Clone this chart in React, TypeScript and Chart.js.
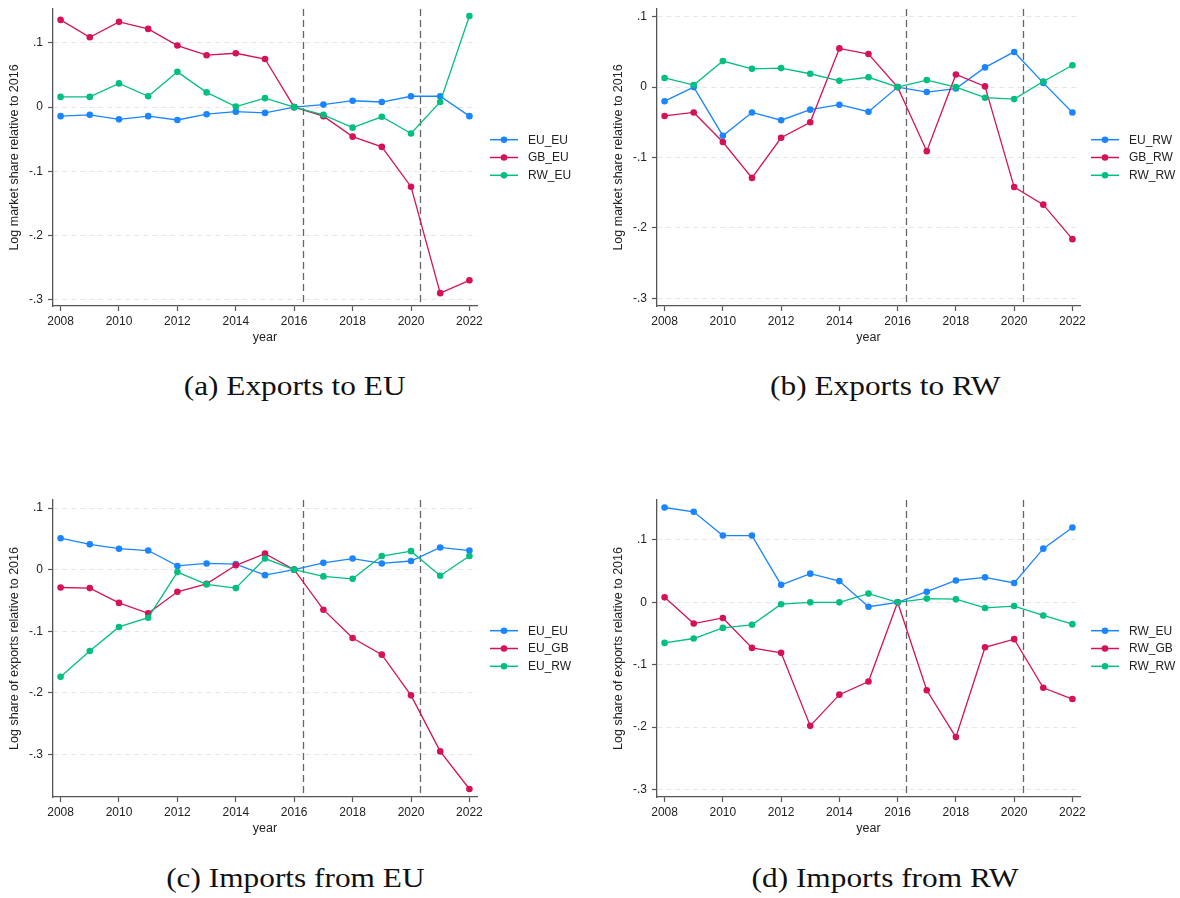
import React, { useEffect, useRef } from "react";
import { Chart, registerables } from "chart.js";

Chart.register(...registerables);

// ---------- data ----------
const years = [2008, 2009, 2010, 2011, 2012, 2013, 2014, 2015, 2016, 2017, 2018, 2019, 2020, 2021, 2022];
const xTickValues = [2008, 2010, 2012, 2014, 2016, 2018, 2020, 2022];
const yTickValues = [0.1, 0, -0.1, -0.2, -0.3];
const referenceYears = [2016.3, 2020.3];

// (a) Exports to EU
const exportsEU_EU_EU = [-0.014, -0.012, -0.019, -0.014, -0.02, -0.011, -0.007, -0.009, 0, 0.004, 0.01, 0.008, 0.017, 0.017, -0.014];
const exportsEU_GB_EU = [0.136, 0.109, 0.133, 0.122, 0.096, 0.081, 0.084, 0.075, 0, -0.014, -0.046, -0.062, -0.124, -0.29, -0.27];
const exportsEU_RW_EU = [0.016, 0.016, 0.037, 0.017, 0.055, 0.023, 0.001, 0.014, 0, -0.012, -0.032, -0.015, -0.041, 0.008, 0.142];

// (b) Exports to RW
const exportsRW_EU_RW = [-0.02, 0.0, -0.069, -0.036, -0.047, -0.032, -0.025, -0.035, 0, -0.007, -0.002, 0.028, 0.05, 0.006, -0.036];
const exportsRW_GB_RW = [-0.041, -0.036, -0.078, -0.129, -0.072, -0.05, 0.055, 0.047, 0, -0.091, 0.018, 0.001, -0.142, -0.167, -0.216];
const exportsRW_RW_RW = [0.013, 0.003, 0.037, 0.026, 0.027, 0.019, 0.009, 0.014, 0, 0.01, 0.0, -0.015, -0.017, 0.008, 0.031];

// (c) Imports from EU
const importsEU_EU_EU = [0.051, 0.041, 0.034, 0.031, 0.006, 0.01, 0.009, -0.009, 0, 0.011, 0.018, 0.01, 0.014, 0.036, 0.031];
const importsEU_EU_GB = [-0.029, -0.03, -0.054, -0.071, -0.036, -0.023, 0.007, 0.026, 0, -0.065, -0.111, -0.138, -0.204, -0.295, -0.356];
const importsEU_EU_RW = [-0.174, -0.132, -0.093, -0.078, -0.004, -0.024, -0.03, 0.018, 0, -0.011, -0.015, 0.022, 0.03, -0.01, 0.022];

// (d) Imports from RW
const importsRW_RW_EU = [0.152, 0.145, 0.107, 0.107, 0.028, 0.046, 0.034, -0.007, 0, 0.017, 0.035, 0.04, 0.031, 0.086, 0.12];
const importsRW_RW_GB = [0.008, -0.034, -0.025, -0.073, -0.081, -0.198, -0.148, -0.127, 0, -0.141, -0.216, -0.072, -0.059, -0.137, -0.155];
const importsRW_RW_RW = [-0.065, -0.058, -0.041, -0.036, -0.003, 0.0, 0.0, 0.014, 0, 0.006, 0.005, -0.009, -0.006, -0.021, -0.035];

const seriesColors = ["#1a85ff", "#d41159", "#00bf7f"];

// ---------- styling ----------
const FONT = "'Liberation Sans', Arial, sans-serif";
const TEXT = "#222";
const AXIS = "#555";
const CANVAS_W = 590;
const CANVAS_H = 350;
const CHART_TOP = 9;
const CHART_BOTTOM = 306;

type Panel = {
  names: string[];
  values: number[][];
  yTitle: string;
  yMin: number;
  yMax: number;
  left: number;
  top: number;
  chartLeft: number;
  chartRight: number;
  legendX: number;
  caption: string;
  captionTop: number;
};

const panels: Panel[] = [
  {
    names: ["EU_EU", "GB_EU", "RW_EU"],
    values: [exportsEU_EU_EU, exportsEU_GB_EU, exportsEU_RW_EU],
    yTitle: "Log market share relative to 2016",
    yMin: -0.31, yMax: 0.153,
    left: 0, top: 0, chartLeft: 53, chartRight: 477, legendX: 490,
    caption: "(a) Exports to EU", captionTop: 371,
  },
  {
    names: ["EU_RW", "GB_RW", "RW_RW"],
    values: [exportsRW_EU_RW, exportsRW_GB_RW, exportsRW_RW_RW],
    yTitle: "Log market share relative to 2016",
    yMin: -0.311, yMax: 0.111,
    left: 590, top: 0, chartLeft: 67, chartRight: 490, legendX: 501,
    caption: "(b) Exports to RW", captionTop: 371,
  },
  {
    names: ["EU_EU", "EU_GB", "EU_RW"],
    values: [importsEU_EU_EU, importsEU_EU_GB, importsEU_EU_RW],
    yTitle: "Log share of exports relative to 2016",
    yMin: -0.369, yMax: 0.113,
    left: 0, top: 491, chartLeft: 53, chartRight: 477, legendX: 490,
    caption: "(c) Imports from EU", captionTop: 863,
  },
  {
    names: ["RW_EU", "RW_GB", "RW_RW"],
    values: [importsRW_RW_EU, importsRW_RW_GB, importsRW_RW_RW],
    yTitle: "Log share of exports relative to 2016",
    yMin: -0.312, yMax: 0.164,
    left: 590, top: 491, chartLeft: 67, chartRight: 490, legendX: 501,
    caption: "(d) Imports from RW", captionTop: 863,
  },
];

const fmtY = (v: number) => {
  if (Math.abs(v) < 1e-9) return "0";
  const s = String(Math.round(Math.abs(v) * 1000) / 1000).replace(/^0/, "");
  return (v < 0 ? "-" : "") + s;
};

const refLinesPlugin = {
  id: "refLines",
  beforeDatasetsDraw(chart: any) {
    const { ctx, chartArea, scales } = chart;
    ctx.save();
    ctx.strokeStyle = "#666";
    ctx.lineWidth = 1.3;
    ctx.setLineDash([7, 4]);
    referenceYears.forEach((yr) => {
      const x = Math.round(scales.x.getPixelForValue(yr)) + 0.5;
      ctx.beginPath();
      ctx.moveTo(x, chartArea.top);
      ctx.lineTo(x, chartArea.bottom);
      ctx.stroke();
    });
    ctx.restore();
  },
};

const legendPlugin = {
  id: "stataLegend",
  afterDraw(chart: any, _args: any, opts: any) {
    const { ctx, chartArea } = chart;
    const cy = (chartArea.top + chartArea.bottom) / 2;
    const x0 = opts.x;
    ctx.save();
    chart.data.datasets.forEach((ds: any, i: number) => {
      const y = cy + (i - 1) * 17.8;
      ctx.strokeStyle = ds.borderColor;
      ctx.lineWidth = 1.5;
      ctx.beginPath();
      ctx.moveTo(x0, y);
      ctx.lineTo(x0 + 28, y);
      ctx.stroke();
      ctx.fillStyle = ds.borderColor;
      ctx.beginPath();
      ctx.arc(x0 + 14, y, 3.3, 0, Math.PI * 2);
      ctx.fill();
      ctx.fillStyle = TEXT;
      ctx.font = `12px ${FONT}`;
      ctx.textAlign = "left";
      ctx.textBaseline = "middle";
      ctx.fillText(ds.label, x0 + 38, y + 0.5);
    });
    ctx.restore();
  },
};

function PanelChart({ p }: { p: Panel }) {
  const ref = useRef<HTMLCanvasElement | null>(null);
  useEffect(() => {
    if (!ref.current) return;
    const datasets = p.names.map((name, i) => ({
      label: name,
      data: years.map((yr, k) => ({ x: yr, y: p.values[i][k] })),
      borderColor: seriesColors[i],
      backgroundColor: seriesColors[i],
      pointBackgroundColor: seriesColors[i],
      pointBorderWidth: 0,
      pointRadius: 3.3,
      pointHoverRadius: 3.3,
      borderWidth: 1.3,
      tension: 0,
      fill: false,
      order: 3 - i,
    }));
    const chart = new Chart(ref.current, {
      type: "line",
      data: { datasets },
      plugins: [refLinesPlugin, legendPlugin],
      options: {
        animation: false,
        responsive: false,
        maintainAspectRatio: false,
        devicePixelRatio: 1,
        events: [],
        layout: { padding: { left: 0, top: CHART_TOP, right: CANVAS_W - p.chartRight, bottom: 0 } },
        plugins: {
          legend: { display: false },
          tooltip: { enabled: false },
          stataLegend: { x: p.legendX },
        } as any,
        scales: {
          x: {
            type: "linear",
            min: 2007.74,
            max: 2022.26,
            afterBuildTicks: (s: any) => {
              s.ticks = xTickValues.map((v) => ({ value: v }));
            },
            afterFit: (s: any) => {
              s.height = CANVAS_H - CHART_BOTTOM;
              s.paddingLeft = 0;
              s.paddingRight = 0;
            },
            ticks: {
              autoSkip: false,
              maxRotation: 0,
              padding: 3,
              color: TEXT,
              font: { family: FONT, size: 12 },
              callback: (v: any) => String(v),
            },
            grid: { drawOnChartArea: false, tickLength: 5, tickColor: AXIS, tickWidth: 1.2 },
            border: { color: AXIS, width: 1.3 },
            title: {
              display: true,
              text: "year",
              color: TEXT,
              font: { family: FONT, size: 12.5 },
              padding: { top: 0, bottom: 5 },
            },
          },
          y: {
            type: "linear",
            min: p.yMin,
            max: p.yMax,
            afterBuildTicks: (s: any) => {
              s.ticks = yTickValues.map((v) => ({ value: v }));
            },
            afterFit: (s: any) => {
              s.width = p.chartLeft;
              s.paddingTop = 0;
              s.paddingBottom = 0;
            },
            ticks: {
              padding: 5,
              color: TEXT,
              font: { family: FONT, size: 12 },
              callback: (v: any) => fmtY(Number(v)),
            },
            grid: { color: "#e6e6e6", lineWidth: 1, tickLength: 5, tickColor: AXIS, tickWidth: 1.2 },
            border: { color: AXIS, width: 1.3, dash: [5, 4] },
            title: {
              display: true,
              text: p.yTitle,
              color: TEXT,
              font: { family: FONT, size: 12.5 },
              padding: { top: p.chartLeft - 38.5 - 7.5, bottom: 0 },
            },
          },
        },
      } as any,
    });
    return () => chart.destroy();
  }, [p]);
  return (
    <canvas
      ref={ref}
      width={CANVAS_W}
      height={CANVAS_H}
      style={{ position: "absolute", left: p.left, top: p.top, width: CANVAS_W, height: CANVAS_H }}
    />
  );
}

export default function App() {
  return (
    <div
      style={{
        position: "absolute",
        left: 0,
        top: 0,
        width: 1180,
        height: 898,
        background: "#fff",
        overflow: "hidden",
      }}
    >
      {panels.map((p, i) => (
        <PanelChart key={i} p={p} />
      ))}
      {panels.map((p, i) => (
        <div
          key={"c" + i}
          style={{
            position: "absolute",
            left: p.left,
            top: p.captionTop,
            width: 590,
            textAlign: "center",
            fontFamily: "'Liberation Serif', 'Times New Roman', serif",
            fontSize: 27,
            lineHeight: "30px",
            color: "#111",
            whiteSpace: "nowrap",
          }}
        >
          <span style={{ display: "inline-block", transform: "scaleX(1.16)" }}>{p.caption}</span>
        </div>
      ))}
    </div>
  );
}
